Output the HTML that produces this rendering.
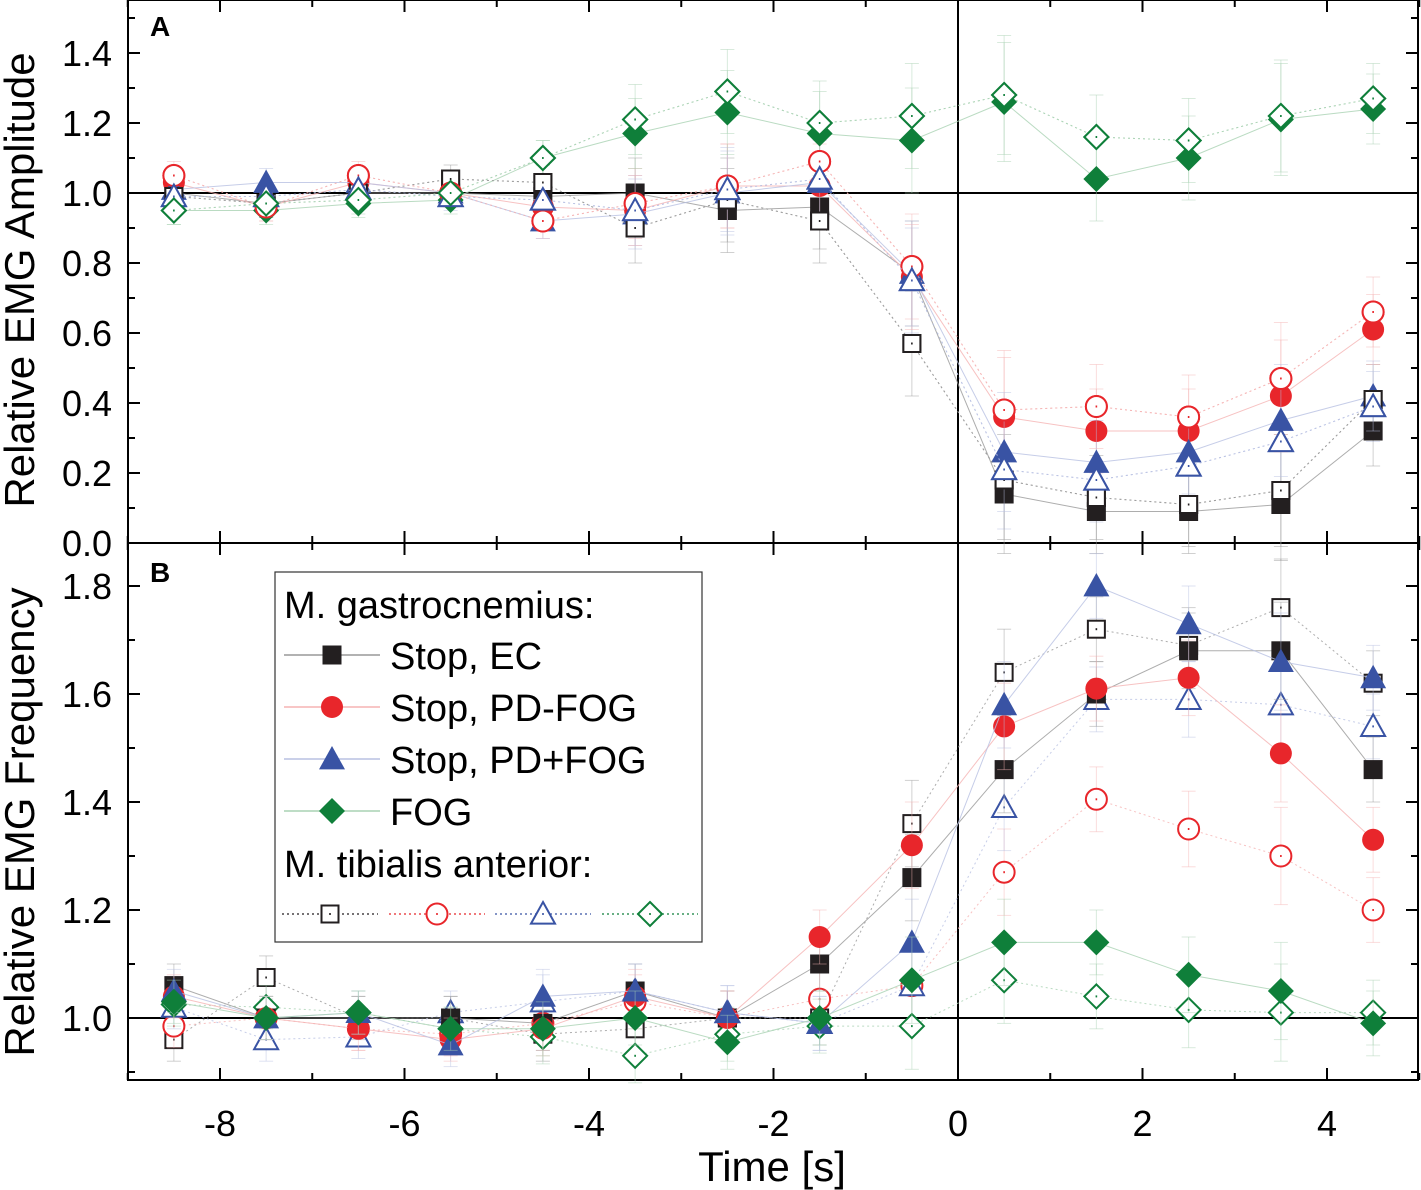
<!DOCTYPE html>
<html><head><meta charset="utf-8"><style>
html,body{margin:0;padding:0;background:#fff;}
svg{display:block;font-family:"Liberation Sans",Arial,sans-serif;}
</style></head><body>
<svg id="chart" width="1421" height="1190" viewBox="0 0 1421 1190" xmlns="http://www.w3.org/2000/svg"></svg>
<script>
const times = [-8.5,-7.5,-6.5,-5.5,-4.5,-3.5,-2.5,-1.5,-0.5,0.5,1.5,2.5,3.5,4.5];
// Panel A: amplitude
const aEC   = [1.0,0.97,1.0,1.0,0.99,1.0,0.95,0.96,0.77,0.14,0.09,0.09,0.11,0.32];
const aECt  = [0.99,0.97,1.0,1.04,1.03,0.90,0.98,0.92,0.57,0.18,0.13,0.11,0.15,0.41];
const aPDm  = [1.03,0.96,1.03,1.0,0.96,0.95,1.02,1.02,0.76,0.36,0.32,0.32,0.42,0.61];
const aPDmt = [1.05,0.96,1.05,1.0,0.92,0.97,1.02,1.09,0.79,0.38,0.39,0.36,0.47,0.66];
const aPDp  = [1.01,1.03,1.03,1.0,0.92,0.94,1.0,1.03,0.77,0.26,0.23,0.26,0.35,0.42];
const aPDpt = [0.99,0.99,1.01,0.99,0.98,0.95,1.01,1.04,0.75,0.21,0.18,0.22,0.29,0.39];
const aFOG  = [0.95,0.95,0.97,0.98,1.10,1.17,1.23,1.17,1.15,1.26,1.04,1.10,1.21,1.24];
const aFOGt = [0.95,0.97,0.98,1.0,1.10,1.21,1.29,1.20,1.22,1.28,1.16,1.15,1.22,1.27];
const errA  = [0.04,0.04,0.04,0.04,0.05,0.10,0.12,0.12,0.15,0.17,0.12,0.12,0.16,0.10];
// Panel B: frequency
const bEC   = [1.06,1.0,1.0,1.0,0.99,1.05,1.0,1.10,1.26,1.46,1.60,1.68,1.68,1.46];
const bECt  = [0.96,1.075,1.0,1.0,0.97,0.98,1.0,1.0,1.36,1.64,1.72,1.69,1.76,1.62];
const bPDm  = [1.04,1.0,0.98,0.96,0.98,1.04,1.0,1.15,1.32,1.54,1.61,1.63,1.49,1.33];
const bPDmt = [0.985,1.0,0.98,0.97,0.99,1.03,1.0,1.035,1.06,1.27,1.405,1.35,1.30,1.20];
const bPDp  = [1.05,1.0,1.01,0.95,1.04,1.05,1.01,0.99,1.14,1.58,1.80,1.73,1.66,1.63];
const bPDpt = [1.02,0.96,0.965,1.01,1.03,1.05,1.01,0.99,1.06,1.39,1.59,1.59,1.58,1.54];
const bFOG  = [1.03,1.0,1.01,0.98,0.98,1.0,0.955,1.0,1.07,1.14,1.14,1.08,1.05,0.99];
const bFOGt = [1.025,1.02,1.01,0.98,0.965,0.93,0.97,0.985,0.985,1.07,1.04,1.015,1.01,1.01];
const errB  = [0.04,0.04,0.04,0.04,0.05,0.05,0.05,0.05,0.08,0.08,0.06,0.07,0.09,0.06];
const xTicks = [-8,-6,-4,-2,0,2,4];
const aTicks = [0.0,0.2,0.4,0.6,0.8,1.0,1.2,1.4];
const bTicks = [1.0,1.2,1.4,1.6,1.8];

const svg = document.getElementById('chart');
const NS = 'http://www.w3.org/2000/svg';
function el(tag, attrs, parent){const e=document.createElementNS(NS,tag);for(const k in attrs)e.setAttribute(k,attrs[k]);(parent||svg).appendChild(e);return e;}
const L=128,R=1418;
const X = t => 958 + t*92.25;
const YA = v => 543 - v*350;
const YB = v => 1018 - (v-1)*540;
const C = {k:'#231f20',r:'#e8262b',b:'#3953a4',g:'#0f7f3a'};
const lineC = {k:'#999',r:'#f5b3b3',b:'#b8c0e2',g:'#a9d2b3'};

function marker(shape,col,filled,x,y,g){
  const f = filled?col:'#fff', sw = filled?0:2;
  let m;
  if(shape==='sq'){const s=filled?19:17;m=el('rect',{x:x-s/2,y:y-s/2,width:s,height:s,fill:f,stroke:col,'stroke-width':sw},g);}
  else if(shape==='ci'){const r=filled?11:10.5;m=el('circle',{cx:x,cy:y,r:r,fill:f,stroke:col,'stroke-width':sw},g);}
  else if(shape==='tr'){const s=filled?13:12;m=el('polygon',{points:`${x},${y-s} ${x+s},${y+s*0.8} ${x-s},${y+s*0.8}`,fill:f,stroke:col,'stroke-width':sw},g);}
  else {const s=filled?13:12;m=el('polygon',{points:`${x},${y-s} ${x+s},${y} ${x},${y+s} ${x-s},${y}`,fill:f,stroke:col,'stroke-width':sw},g);}
  
  
  if(!filled){el('rect',{x:x-0.8,y:y-1,width:1.6,height:2,fill:col},g);}
}
function series(name,vals,err,Y,shape,ck,filled,bars){
  const g=el('g',{});
  
  
  if(bars){times.forEach((t,i)=>{const x=X(t),y1=Y(vals[i]+err[i]),y2=Y(vals[i]-err[i]);
    el('line',{x1:x,x2:x,y1:y1,y2:y2,stroke:lineC[ck],'stroke-width':1,opacity:0.45},g);
    el('line',{x1:x-7,x2:x+7,y1:y1,y2:y1,stroke:lineC[ck],'stroke-width':1,opacity:0.45},g);
    el('line',{x1:x-7,x2:x+7,y1:y2,y2:y2,stroke:lineC[ck],'stroke-width':1,opacity:0.45},g);});}
  const pts=times.map((t,i)=>X(t)+','+Y(vals[i])).join(' ');
  el('polyline',{points:pts,fill:'none',stroke:lineC[ck],'stroke-width':1,'stroke-dasharray':filled?'none':'2,3',opacity:0.8},g);
  times.forEach((t,i)=>marker(shape,C[ck],filled,X(t),Y(vals[i]),g));
}
function panel(id,top,bot,Y,ticks,minorStep,minV,maxV){
  const g=el('g',{});
  
  
  el('rect',{x:L,y:top,width:R-L,height:bot-top,fill:'none',stroke:'#000','stroke-width':2},g);
  el('line',{x1:L,x2:R,y1:Y(1),y2:Y(1),stroke:'#000','stroke-width':2},g);
  el('line',{x1:X(0),x2:X(0),y1:top,y2:bot,stroke:'#000','stroke-width':2},g);
  for(let t=-9;t<=5;t++){const len=(t%2===0)?12:7;
    el('line',{x1:X(t),x2:X(t),y1:bot,y2:bot-len,stroke:'#000','stroke-width':2},g);
    el('line',{x1:X(t),x2:X(t),y1:top,y2:top+len,stroke:'#000','stroke-width':2},g);}
  for(let v=Math.ceil(minV/minorStep)*minorStep;v<=maxV+1e-9;v+=minorStep){
    const major=ticks.some(k=>Math.abs(k-v)<1e-6);const len=major?12:7;const y=Y(v);
    if(y<top-1||y>bot+1)continue;
    el('line',{x1:L,x2:L+len,y1:y,y2:y,stroke:'#000','stroke-width':2},g);
    el('line',{x1:R,x2:R-len,y1:y,y2:y,stroke:'#000','stroke-width':2},g);}
  ticks.forEach(v=>{const t=el('text',{x:112,y:Y(v)+13,'font-size':36,'text-anchor':'end',fill:'#000'},g);t.textContent=v.toFixed(1);
    });
}
panel('panel-a',0,543,YA,aTicks,0.1,0,1.5);
panel('panel-b',543,1080,YB,bTicks,0.1,0.9,1.85);
xTicks.forEach(v=>{const t=el('text',{x:X(v),y:1136,'font-size':36,'text-anchor':'middle'});t.textContent=v;
  });

series('a-ec-tibialis',aECt,errA,YA,'sq','k',false,true);
series('a-pdm-tibialis',aPDmt,errA,YA,'ci','r',false,true);
series('a-pdp-tibialis',aPDpt,errA,YA,'tr','b',false,true);
series('a-fog-tibialis',aFOGt,errA,YA,'di','g',false,true);
series('a-ec-gastro',aEC,errA,YA,'sq','k',true,true);
series('a-pdm-gastro',aPDm,errA,YA,'ci','r',true,true);
series('a-pdp-gastro',aPDp,errA,YA,'tr','b',true,true);
series('a-fog-gastro',aFOG,errA,YA,'di','g',true,true);
series('a-ec-tibialis-top',aECt,errA,YA,'sq','k',false,false);
series('a-pdm-tibialis-top',aPDmt,errA,YA,'ci','r',false,false);
series('a-pdp-tibialis-top',aPDpt,errA,YA,'tr','b',false,false);
series('a-fog-tibialis-top',aFOGt,errA,YA,'di','g',false,false);

series('b-ec-tibialis',bECt,errB,YB,'sq','k',false,true);
series('b-pdm-tibialis',bPDmt,errB,YB,'ci','r',false,true);
series('b-pdp-tibialis',bPDpt,errB,YB,'tr','b',false,true);
series('b-fog-tibialis',bFOGt,errB,YB,'di','g',false,true);
series('b-ec-gastro',bEC,errB,YB,'sq','k',true,true);
series('b-pdm-gastro',bPDm,errB,YB,'ci','r',true,true);
series('b-pdp-gastro',bPDp,errB,YB,'tr','b',true,true);
series('b-fog-gastro',bFOG,errB,YB,'di','g',true,true);

function txt(s,attrs,name){const t=el('text',attrs);t.textContent=s;return t;}
txt('A',{x:150,y:36,'font-size':28,'font-weight':'bold'},'panel-a-label');
txt('B',{x:150,y:582,'font-size':28,'font-weight':'bold'},'panel-b-label');
txt('Relative EMG Amplitude',{x:0,y:0,'font-size':42,'text-anchor':'middle',transform:'translate(34,280) rotate(-90)'},'y-axis-title-a');
txt('Relative EMG Frequency',{x:0,y:0,'font-size':42,'text-anchor':'middle',transform:'translate(34,822) rotate(-90)'},'y-axis-title-b');
txt('Time [s]',{x:772,y:1181,'font-size':42,'text-anchor':'middle'},'x-axis-title');

const lg=el('g',{});


el('rect',{x:275,y:572,width:427,height:370,fill:'#fff',stroke:'#333','stroke-width':1.2},lg);
const t1=el('text',{x:284,y:618,'font-size':38},lg);t1.textContent='M. gastrocnemius:';
const ents=[['Stop, EC','sq','k',655],['Stop, PD-FOG','ci','r',707],['Stop, PD+FOG','tr','b',759],['FOG','di','g',811]];
ents.forEach(e=>{const y=e[3];
  el('line',{x1:284,x2:380,y1:y,y2:y,stroke:lineC[e[2]],'stroke-width':1.5},lg);
  marker(e[1],C[e[2]],true,332,y,lg);
  const t=el('text',{x:390,y:y+14,'font-size':38},lg);t.textContent=e[0];
  });
const t2=el('text',{x:284,y:877,'font-size':38},lg);t2.textContent='M. tibialis anterior:';
[['sq','k',330],['ci','r',437],['tr','b',543],['di','g',650]].forEach(e=>{
  el('line',{x1:e[2]-48,x2:e[2]+48,y1:914,y2:914,stroke:C[e[1]],'stroke-width':1.2,'stroke-dasharray':'2,3'},lg);
  marker(e[0],C[e[1]],false,e[2],914,lg);});
</script>
</body></html>
